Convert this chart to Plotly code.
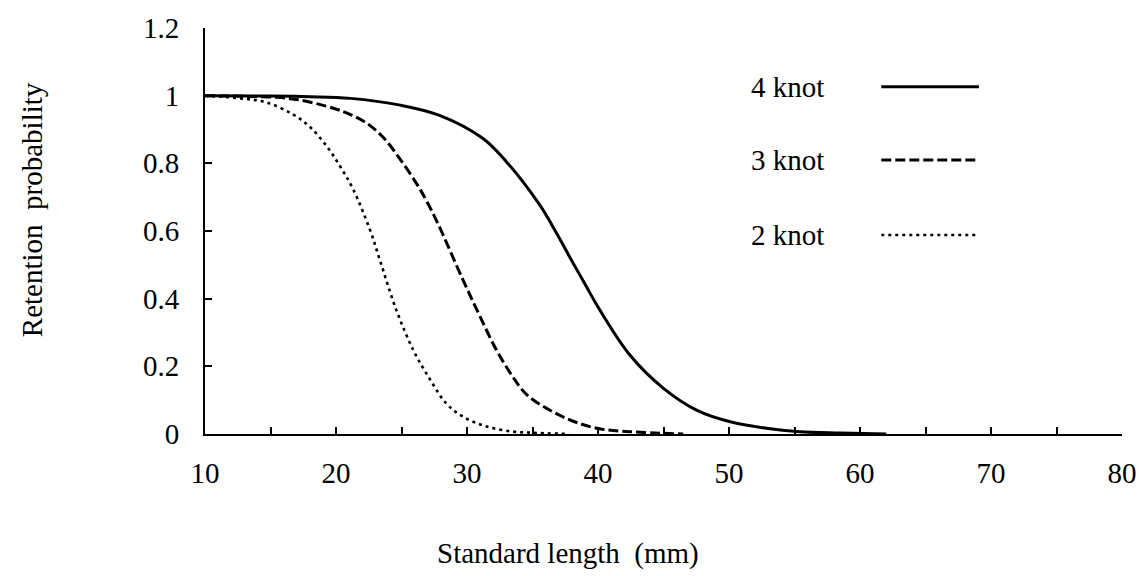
import plotly.graph_objects as go

# Data
len_4knot = [10, 14, 18, 21.1, 24.9, 27.9, 31.2, 33.0, 35.55, 36.7, 37.9, 39.1, 39.9, 42.4, 45.0, 47.6, 50.1, 52.85, 55.4, 58.5, 62]
p_4knot = [1.0, 0.999, 0.997, 0.992, 0.972, 0.942, 0.874, 0.805, 0.677, 0.603, 0.519, 0.437, 0.382, 0.235, 0.135, 0.069, 0.036, 0.017, 0.007, 0.003, 0.0]

len_3knot = [10, 13, 15.5, 17.25, 19.8, 21.06, 22.3, 23.6, 24.9, 26.15, 26.9, 27.8, 29.7, 31.0, 32.25, 33.5, 34.6, 37.3, 39.9, 42.4, 46.5]
p_3knot = [1.0, 0.998, 0.995, 0.987, 0.963, 0.945, 0.92, 0.877, 0.812, 0.74, 0.69, 0.62, 0.455, 0.347, 0.248, 0.169, 0.115, 0.051, 0.017, 0.007, 0.0]

len_2knot = [10, 12.7, 14.7, 16.7, 18.0, 19.3, 20.3, 21.3, 22.6, 23.35, 24.6, 25.9, 27.2, 28.4, 29.7, 31.5, 33.5, 34.8, 37.8]
p_2knot = [1.0, 0.992, 0.98, 0.945, 0.908, 0.85, 0.792, 0.724, 0.603, 0.514, 0.367, 0.248, 0.16, 0.091, 0.051, 0.022, 0.007, 0.004, 0.0]

series_names = ["4 knot", "3 knot", "2 knot"]
x_ticks = [10, 15, 20, 25, 30, 35, 40, 45, 50, 55, 60, 65, 70, 75, 80]
x_ticktext = ["10", "", "20", "", "30", "", "40", "", "50", "", "60", "", "70", "", "80"]
y_ticks = [0, 0.2, 0.4, 0.6, 0.8, 1.0, 1.2]
y_ticktext = ["0", "0.2", "0.4", "0.6", "0.8", "1", "1.2"]

FONT = "Liberation Serif, Times New Roman, serif"
FS = 29
dashes = ["solid", "10px,4px", "3px,4px"]
widths = [3, 3, 2.6]

fig = go.Figure()
for xs, ys, name, d, w in zip([len_4knot, len_3knot, len_2knot],
                              [p_4knot, p_3knot, p_2knot],
                              series_names, dashes, widths):
    fig.add_trace(go.Scatter(x=xs, y=ys, mode="lines", name=name,
                             line=dict(color="black", width=w, dash=d,
                                       shape="spline", smoothing=1.0),
                             showlegend=False))

# custom legend: text on the left, line sample on the right
leg_y = [0.855, 0.675, 0.49]
for name, d, w, yy in zip(series_names, dashes, widths, leg_y):
    fig.add_annotation(x=0.677, y=yy, xref="paper", yref="paper",
                       text=name, showarrow=False, xanchor="right", yanchor="middle",
                       font=dict(family=FONT, size=FS, color="black"))
    fig.add_shape(type="line", xref="paper", yref="paper",
                  x0=0.7375, x1=0.844, y0=yy, y1=yy,
                  line=dict(color="black", width=w, dash=d))

fig.add_annotation(x=(568 - 205) / 918, y=-(553 - 434) / 406, xref="paper", yref="paper",
                   text="Standard length  (mm)", showarrow=False,
                   xanchor="center", yanchor="middle",
                   font=dict(family=FONT, size=FS, color="black"))
fig.add_annotation(x=-(205 - 32) / 918, y=(434 - 210) / 406, xref="paper", yref="paper",
                   text="Retention  probability", showarrow=False, textangle=-90,
                   xanchor="center", yanchor="middle",
                   font=dict(family=FONT, size=FS, color="black"))

fig.update_layout(
    width=1142, height=576,
    margin=dict(l=205, r=20, t=28, b=142),
    paper_bgcolor="white", plot_bgcolor="white",
    font=dict(family=FONT, size=FS, color="black"),
    xaxis=dict(range=[10, 80], tickvals=x_ticks, ticktext=x_ticktext,
               ticks="inside", ticklen=7, tickwidth=1.5, tickcolor="black",
               showline=True, linecolor="black", linewidth=2, automargin=False,
               showgrid=False, zeroline=False, ticklabelstandoff=12,
               tickfont=dict(family=FONT, size=FS, color="black")),
    yaxis=dict(range=[0, 1.2], tickvals=y_ticks, ticktext=y_ticktext,
               ticks="inside", ticklen=7, tickwidth=1.5, tickcolor="black",
               showline=True, linecolor="black", linewidth=2, automargin=False,
               showgrid=False, zeroline=False, ticklabelstandoff=18,
               tickfont=dict(family=FONT, size=FS, color="black")),
)

fig.write_html("out.html")
